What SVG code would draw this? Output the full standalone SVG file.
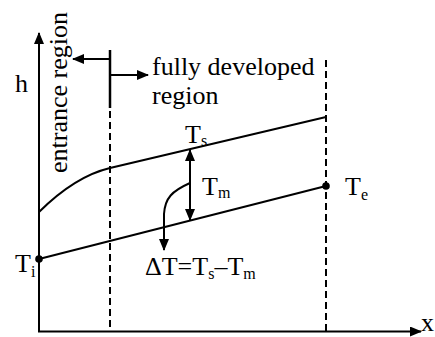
<svg xmlns="http://www.w3.org/2000/svg" width="435" height="337" viewBox="0 0 435 337">
<defs>
<marker id="ah" viewBox="0 0 12 10" refX="11" refY="5" markerWidth="12" markerHeight="10" markerUnits="userSpaceOnUse" orient="auto">
<path d="M0,0 L12,5 L0,10 z" fill="#000"/>
</marker>
</defs>
<style>
.ln{stroke:#000;stroke-width:2;fill:none}
.dash{stroke:#000;stroke-width:2;fill:none;stroke-dasharray:7 4}
text{font-family:'Liberation Serif','Times New Roman','DejaVu Serif',serif;font-size:26px;fill:#000}
.sub{font-size:16px}
</style>
<rect width="435" height="337" fill="#fff"/>
<g id="connectors">
<line class="ln" x1="39" y1="332" x2="39" y2="33" marker-end="url(#ah)"/>
<line class="ln" x1="38" y1="331.5" x2="421" y2="331.5" marker-end="url(#ah)"/>
<line x1="110" y1="50" x2="110" y2="108" stroke="#000" stroke-width="2.5"/>
<line class="dash" x1="110" y1="111" x2="110" y2="331"/>
<line class="dash" x1="326" y1="60" x2="326" y2="331"/>
<line class="ln" x1="110" y1="59" x2="73" y2="59" marker-end="url(#ah)"/>
<line class="ln" x1="110" y1="75" x2="148" y2="75" marker-end="url(#ah)"/>
<path class="ln" d="M39,212 Q75,176.3 110,168 L326,117"/>
<line class="ln" x1="39" y1="259" x2="326" y2="186"/>
<line class="ln" x1="190" y1="185" x2="190" y2="150" marker-end="url(#ah)"/>
<line class="ln" x1="190" y1="185" x2="190" y2="220" marker-end="url(#ah)"/>
<path class="ln" d="M190,183 C172,191 165,198 164,214 L164,250" marker-end="url(#ah)"/>
</g>
<g id="Ti"><circle cx="39" cy="259" r="3.8" fill="#000"/><text font-family="Liberation Serif, serif" x="15" y="272">T<tspan class="sub" dy="5">i</tspan></text></g>
<g id="Te"><circle cx="326" cy="186" r="3.8" fill="#000"/><text font-family="Liberation Serif, serif" x="345" y="195">T<tspan class="sub" dy="5">e</tspan></text></g>
<g id="Ts"><text font-family="Liberation Serif, serif" x="185" y="143">T<tspan class="sub" dy="3">s</tspan></text></g>
<g id="Tm"><text font-family="Liberation Serif, serif" x="202" y="195">T<tspan class="sub" dy="3">m</tspan></text></g>
<g id="dT"><text font-family="Liberation Serif, serif" x="145" y="275">ΔT=T<tspan class="sub" dy="4">s</tspan><tspan dy="-4">–T</tspan><tspan class="sub" dy="4">m</tspan></text></g>
<g id="h"><text font-family="Liberation Serif, serif" x="15" y="92">h</text></g>
<g id="xlabel"><text font-family="Liberation Serif, serif" x="421" y="331">x</text></g>
<g id="entrance"><text font-family="Liberation Serif, serif" transform="translate(67,173) rotate(-90)">entrance region</text></g>
<g id="fully"><text font-family="Liberation Serif, serif" x="152" y="75">fully developed</text><text font-family="Liberation Serif, serif" x="152" y="104">region</text></g>
</svg>
